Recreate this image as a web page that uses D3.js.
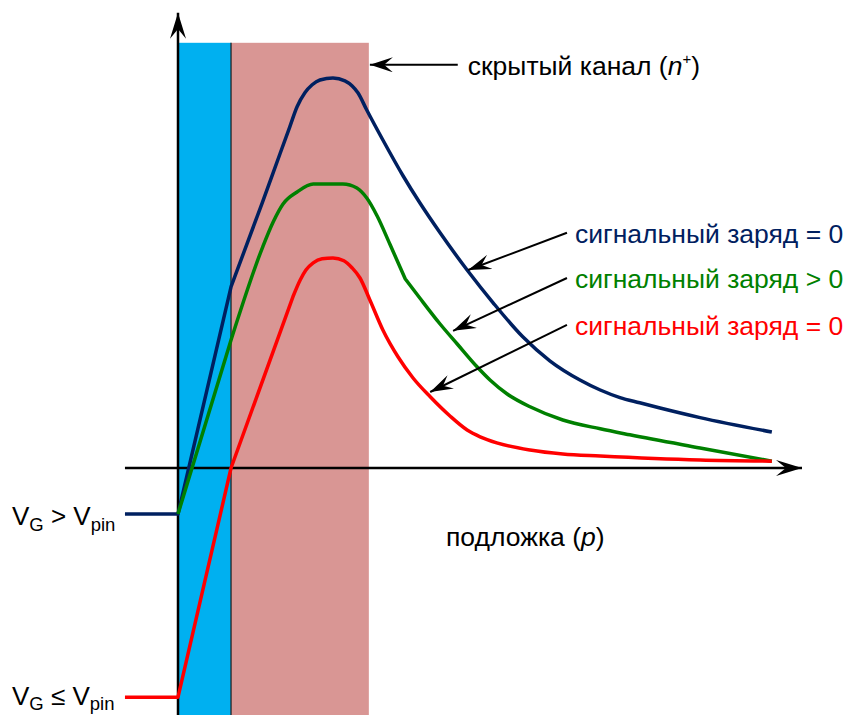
<!DOCTYPE html>
<html lang="ru">
<head>
<meta charset="utf-8">
<title>Потенциал в пикселе</title>
<style>
  body { margin: 0; background: #fff; }
  svg { display: block; font-family: "Liberation Sans", Arial, sans-serif; }
</style>
</head>
<body>
<svg id="chart" width="845" height="715"></svg>
<script src="https://d3js.org/d3.v7.min.js"></script>
<script>
// depth into the pixel (x) and potential (y), arbitrary units
const blueX = [-1.02, 0, 1.02, 1.62, 1.96, 2.15, 2.29, 2.44, 2.58, 2.73, 2.98, 3.21, 3.35, 3.46, 3.63, 3.94, 4.33, 4.65, 5.04, 5.56, 6.06, 6.63, 7.15, 7.73, 8.12, 8.50, 8.88, 9.27, 10.04, 11.42];
const blueY = [-1.15, -1.15, 4.53, 6.63, 7.85, 8.53, 9.03, 9.38, 9.58, 9.70, 9.75, 9.68, 9.55, 9.38, 8.95, 8.20, 7.30, 6.63, 5.88, 4.95, 4.13, 3.28, 2.68, 2.20, 1.95, 1.76, 1.63, 1.50, 1.26, 0.90];

const greenX = [0, 1.02, 1.63, 1.83, 2.02, 2.29, 2.60, 3.17, 3.44, 3.63, 3.83, 4.08, 4.37, 4.65, 5.04, 5.37, 5.75, 6.00, 6.33, 6.77, 7.40, 8.12, 8.69, 10.04, 11.42];
const greenY = [-1.15, 3.20, 5.53, 6.15, 6.60, 6.90, 7.10, 7.10, 7.00, 6.75, 6.30, 5.58, 4.73, 4.25, 3.60, 3.10, 2.53, 2.20, 1.85, 1.53, 1.20, 0.98, 0.83, 0.50, 0.17];

const redX = [-1.02, 0, 1.02, 2.21, 2.35, 2.46, 2.60, 2.77, 2.98, 3.19, 3.35, 3.50, 3.69, 3.94, 4.23, 4.52, 4.85, 5.23, 5.56, 5.81, 6.13, 6.77, 7.40, 8.12, 10.04, 11.42];
const redY = [-5.73, -5.73, 0, 4.28, 4.70, 4.95, 5.13, 5.23, 5.25, 5.18, 5.00, 4.75, 4.20, 3.45, 2.78, 2.25, 1.78, 1.30, 0.95, 0.78, 0.63, 0.45, 0.35, 0.30, 0.20, 0.17];

// straight up to the first break, smoothed pieces between the next ones
const curveBreaks = [[2], [1, 12], [3]];
const curveColors = ["#002060", "#008000", "#ff0000"];

// layers: blue strip, buried channel n+ (pink)
const regionEdges = [0, 1.02, 3.67];
const regionColors = ["#00b0f0", "#d99694"];
const regionTop = 10.63;

const chargeLabels = ["сигнальный заряд = 0", "сигнальный заряд > 0", "сигнальный заряд = 0"];
const arrowFromX = [7.48, 7.48, 7.48];
const arrowFromY = [5.88, 4.75, 3.58];
const arrowToX = [5.58, 5.29, 4.85];
const arrowToY = [4.95, 3.43, 1.90];

const svg = d3.select("#chart");
const x = d3.scaleLinear().domain([0, 12]).range([178, 802]);
const y = d3.scaleLinear().domain([-6, 10]).range([708, 68]);

svg.append("rect").attr("width", 845).attr("height", 715).attr("fill", "#fff");

// arrow heads
const defs = svg.append("defs");
function addHead(id, len, half) {
    defs.append("marker")
        .attr("id", id)
        .attr("viewBox", `${-len} ${-half} ${len} ${half * 2}`)
        .attr("markerWidth", len)
        .attr("markerHeight", half * 2)
        .attr("markerUnits", "userSpaceOnUse")
        .attr("refX", 0).attr("refY", 0)
        .attr("orient", "auto")
        .append("path")
        .attr("d", `M0,0L${-len},${-half}L${-len * 0.62},0L${-len},${half}Z`)
        .attr("fill", "#000");
}
addHead("head", 23, 7.5);
addHead("axisHead", 26, 8);

// regions
svg.selectAll("rect.region")
    .data(regionColors)
    .enter()
    .append("rect")
    .attr("class", "region")
    .attr("x", (d, i) => x(regionEdges[i]))
    .attr("y", y(regionTop))
    .attr("width", (d, i) => x(regionEdges[i + 1]) - x(regionEdges[i]))
    .attr("height", y(-6.3) - y(regionTop))
    .attr("fill", d => d);

svg.append("line")
    .attr("x1", x(regionEdges[1])).attr("x2", x(regionEdges[1]))
    .attr("y1", y(regionTop)).attr("y2", y(-6.3))
    .attr("stroke", "#1a1a1a").attr("stroke-width", 1.2);

// axes
svg.append("line")
    .attr("x1", x(0)).attr("x2", x(0))
    .attr("y1", y(-6.3)).attr("y2", y(11.38))
    .attr("stroke", "#000").attr("stroke-width", 2.5)
    .attr("marker-end", "url(#axisHead)");
svg.append("line")
    .attr("x1", x(-1.02)).attr("x2", x(12))
    .attr("y1", y(0)).attr("y2", y(0))
    .attr("stroke", "#000").attr("stroke-width", 2.5)
    .attr("marker-end", "url(#axisHead)");

// curves
const straight = d3.line().x(d => x(d[0])).y(d => y(d[1]));
const smooth = d3.line().x(d => x(d[0])).y(d => y(d[1])).curve(d3.curveMonotoneX);

[[blueX, blueY], [greenX, greenY], [redX, redY]].forEach(([xs, ys], i) => {
    const pts = xs.map((v, j) => [v, ys[j]]);
    const br = curveBreaks[i].concat([pts.length - 1]);
    let d = straight(pts.slice(0, br[0] + 1));
    for (let k = 0; k < br.length - 1; k++) {
        d += "L" + smooth(pts.slice(br[k], br[k + 1] + 1)).slice(1);
    }
    svg.append("path")
        .attr("d", d)
        .attr("fill", "none")
        .attr("stroke", curveColors[i])
        .attr("stroke-width", 3.5)
        .attr("stroke-linejoin", "round");
});

// annotation arrows + labels
chargeLabels.forEach((t, i) => {
    svg.append("line")
        .attr("x1", x(arrowFromX[i])).attr("y1", y(arrowFromY[i]))
        .attr("x2", x(arrowToX[i])).attr("y2", y(arrowToY[i]))
        .attr("stroke", "#000").attr("stroke-width", 2)
        .attr("marker-end", "url(#head)");
    svg.append("text")
        .attr("x", x(arrowFromX[i]) + 8)
        .attr("y", y(arrowFromY[i]) + 10)
        .attr("font-size", 26.5)
        .attr("fill", curveColors[i])
        .text(t);
});

// buried channel label
svg.append("line")
    .attr("x1", x(5.38)).attr("y1", y(10.08))
    .attr("x2", x(3.69)).attr("y2", y(10.08))
    .attr("stroke", "#000").attr("stroke-width", 2)
    .attr("marker-end", "url(#head)");
const chan = svg.append("text")
    .attr("x", x(5.38) + 10).attr("y", y(10.08) + 10)
    .attr("font-size", 26.5).attr("fill", "#000");
chan.append("tspan").text("скрытый канал (");
chan.append("tspan").attr("font-style", "italic").text("n");
chan.append("tspan").attr("font-size", 15).attr("dy", -11).text("+");
chan.append("tspan").attr("dy", 11).text(")");

// substrate label
const sub = svg.append("text")
    .attr("x", 446).attr("y", 546)
    .attr("font-size", 26.5).attr("fill", "#000");
sub.append("tspan").text("подложка (");
sub.append("tspan").attr("font-style", "italic").text("p");
sub.append("tspan").text(")");

// gate voltage labels
function vLabel(yy, rel, off, drop) {
    const t = svg.append("text")
        .attr("x", 12).attr("y", y(yy) + off)
        .attr("font-size", 26).attr("fill", "#000");
    t.append("tspan").text("V");
    t.append("tspan").attr("font-size", 18.5).attr("dy", drop).text("G");
    t.append("tspan").attr("dy", -drop).text(" " + rel + " V");
    t.append("tspan").attr("font-size", 18.5).attr("dy", drop).text("pin");
}
vLabel(blueY[0], ">", 11, 6);
vLabel(redY[0], "≤", 8, 4.5);
</script>
</body>
</html>
